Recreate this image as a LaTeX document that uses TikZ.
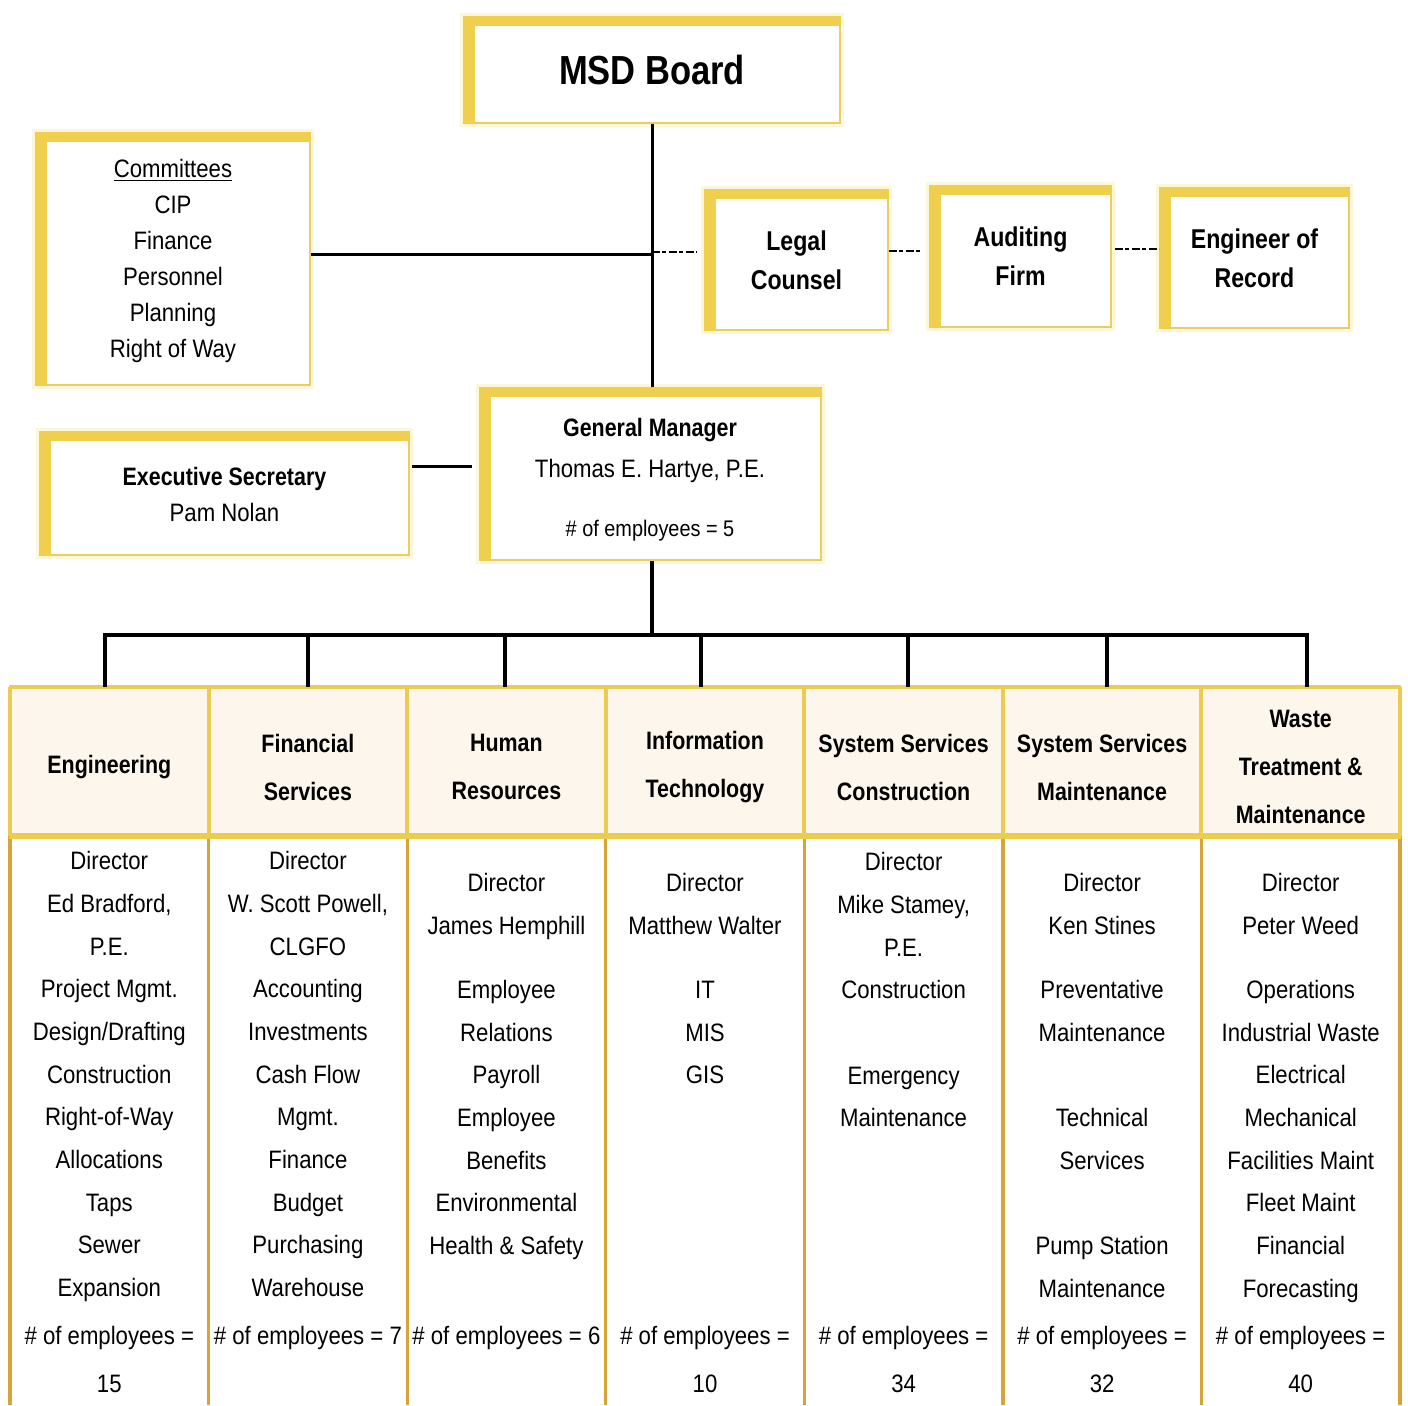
\documentclass[tikz,border=0pt]{standalone}
\usepackage{fontspec}
\setmainfont{Liberation Sans}[FakeStretch=0.88, BoldFeatures={FakeStretch=0.85}]
\definecolor{ygold}{RGB}{240,206,78}
\definecolor{yglow}{RGB}{253,247,218}
\definecolor{ythin}{RGB}{232,206,100}
\definecolor{hfill}{RGB}{253,246,236}
\definecolor{hline}{RGB}{236,204,80}
\definecolor{bline}{RGB}{216,164,58}
\newcommand\msdf{\bfseries\fontsize{20.3}{24}\selectfont}
\newcommand\commf{\fontsize{12.6}{18}\selectfont}
\newcommand\boxf{\bfseries\fontsize{13.6}{19.5}\selectfont}
\newcommand\bodyf{\fontsize{12.6}{21.35}\selectfont}
\newcommand\headf{\bfseries\fontsize{12.6}{24}\selectfont}
\newcommand\empf{\fontsize{12.6}{24}\selectfont}
\newcommand\band[1]{%
  \fill[ygold] (#1.north west) rectangle ([yshift=-5pt]#1.north east);
  \fill[ygold] (#1.north west) rectangle ([xshift=6pt]#1.south west);}
\begin{document}
\begin{tikzpicture}[x=0.5pt,y=-0.5pt,
  ybox/.style={fill=white, draw=ythin, line width=1pt, inner sep=0pt, align=center,
    preaction={draw=yglow, line width=4pt}},
  conn/.style={draw=black, line width=1.5pt},
  dashconn/.style={draw=black, line width=1.2pt, dash pattern=on 4pt off 1.2pt on 2pt off 1.2pt},
  head/.style={align=center, font=\headf, inner sep=0pt},
  body/.style={anchor=north, inner sep=0pt, align=center, font=\bodyf},
  emp/.style={anchor=north, inner sep=0pt, align=center, font=\empf}]
\useasboundingbox (0,0) rectangle (1408,1405);

% ---------- upper boxes ----------
\node[ybox, minimum width=188pt, minimum height=53pt, font=\msdf] (msd) at (652,70) {MSD Board};
\node[ybox, minimum width=137pt, minimum height=126pt, font=\commf] (comm) at (173,259)
  {\rule{0pt}{11pt}\underline{Committees}\\CIP\\Finance\\Personnel\\Planning\\Right of Way};
\node[ybox, minimum width=91.5pt, minimum height=70pt, font=\boxf] (legal) at (796.5,260) {Legal\\Counsel};
\node[ybox, minimum width=90.5pt, minimum height=70.5pt, font=\boxf] (audit) at (1020.5,256.5) {Auditing\\Firm};
\node[ybox, minimum width=94.5pt, minimum height=70pt, font=\boxf] (eor) at (1254.5,258) {Engineer of\\Record};
\node[ybox, minimum width=184.5pt, minimum height=61.5pt, font=\fontsize{12.6}{18}\selectfont] (exec) at (224.5,493)
  {\rule{0pt}{11pt}\textbf{Executive Secretary}\\Pam Nolan};
\node[ybox, minimum width=170.5pt, minimum height=86pt, font=\fontsize{12.6}{20}\selectfont] (gm) at (650,474)
  {\rule{0pt}{14.5pt}\textbf{General Manager}\\[0.5pt]Thomas E. Hartye, P.E.\\[9.5pt]{\fontsize{11.3}{12}\selectfont \# of employees = 5}};
\band{msd}\band{comm}\band{legal}\band{audit}\band{eor}\band{exec}\band{gm}

% ---------- connectors (upper) ----------
\coordinate (j1) at (652,252);
\coordinate (r2) at (0,251);
\coordinate (r3) at (0,249);
\coordinate (r4) at (0,466);
\draw[conn] (msd.south -| j1) -- (gm.north -| j1);
\draw[conn] (comm.east |- 0,254) -- (j1 |- 0,254);
\draw[dashconn] (j1) -- ([xshift=-3.5pt]legal.west |- j1);
\draw[dashconn] (legal.east |- r2) -- ([xshift=-4pt]audit.west |- r2);
\draw[dashconn] ([xshift=1.5pt]audit.east |- r3) -- (eor.west |- r3);
\draw[conn] ([xshift=1pt]exec.east |- r4) -- ([xshift=-3.5pt]gm.west |- r4);

% ---------- table ----------
\coordinate (ttop) at (0,687);
\fill[hfill] (10,687) rectangle (1400,836);
\foreach \x in {10,208.6,407.1,605.7,804.3,1002.9,1201.4,1400}
  \draw[hline, line width=2pt] (\x,687) -- (\x,836);
\draw[hline, line width=2pt] (9,687) -- (1401,687);
\foreach \i/\cx/\t in {1/109.3/Engineering, 2/307.9/{Financial\\Services}, 3/506.4/{Human\\Resources},
    4/705/{Information\\Technology}, 5/903.6/{System Services\\Construction},
    6/1102.1/{System Services\\Maintenance}, 7/1300.7/{Waste\\Treatment \&\\Maintenance}}
  \node[head] (h\i) at (\cx,767) {\t};
\foreach \x in {10,208.6,407.1,605.7,804.3,1002.9,1201.4,1400}
  \draw[bline, line width=1.6pt] (\x,836) -- (\x,1405);
\draw[hline, line width=2.6pt] (9,836) -- (1401,836);

% bus
\foreach \i/\dx in {1/105,2/308,3/505,4/701,5/908,6/1107,7/1307}
  \coordinate (d\i) at (\dx,635);
\draw[conn, line width=1.7pt] (gm.south -| j1) -- (d1 -| j1);
\draw[conn, line width=1.7pt] ([xshift=-0.8pt]d1) -- ([xshift=0.8pt]d7);
\foreach \i in {1,...,7}
  \draw[conn, line width=1.7pt] (d\i) -- (d\i |- ttop);

% body texts
\node[body] (t1) at (109.3,851) {Director\\Ed Bradford,\\P.E.\\Project Mgmt.\\Design/Drafting\\Construction\\Right-of-Way\\Allocations\\Taps\\Sewer\\Expansion};
\node[body] (t2) at (307.9,851) {Director\\W. Scott Powell,\\CLGFO\\Accounting\\Investments\\Cash Flow\\Mgmt.\\Finance\\Budget\\Purchasing\\Warehouse};
\node[body] (t3) at (506.4,873) {Director\\James Hemphill\\[10.7pt]Employee\\Relations\\Payroll\\Employee\\Benefits\\Environmental\\Health \& Safety};
\node[body] (t4) at (705,873) {Director\\Matthew Walter\\[10.7pt]IT\\MIS\\GIS};
\node[body] (t5) at (903.6,852) {Director\\Mike Stamey,\\P.E.\\Construction\\[21.35pt]Emergency\\Maintenance};
\node[body] (t6) at (1102.1,873) {Director\\Ken Stines\\[10.7pt]Preventative\\Maintenance\\[21.35pt]Technical\\Services\\[21.35pt]Pump Station\\Maintenance};
\node[body] (t7) at (1300.7,873) {Director\\Peter Weed\\[10.7pt]Operations\\Industrial Waste\\Electrical\\Mechanical\\Facilities Maint\\Fleet Maint\\Financial\\Forecasting};

\node[emp] (e1) at (109.3,1326) {\# of employees =\\15};
\node[emp] (e2) at (307.9,1326) {\# of employees = 7};
\node[emp] (e3) at (506.4,1326) {\# of employees = 6};
\node[emp] (e4) at (705,1326) {\# of employees =\\10};
\node[emp] (e5) at (903.6,1326) {\# of employees =\\34};
\node[emp] (e6) at (1102.1,1326) {\# of employees =\\32};
\node[emp] (e7) at (1300.7,1326) {\# of employees =\\40};
\end{tikzpicture}
\end{document}
